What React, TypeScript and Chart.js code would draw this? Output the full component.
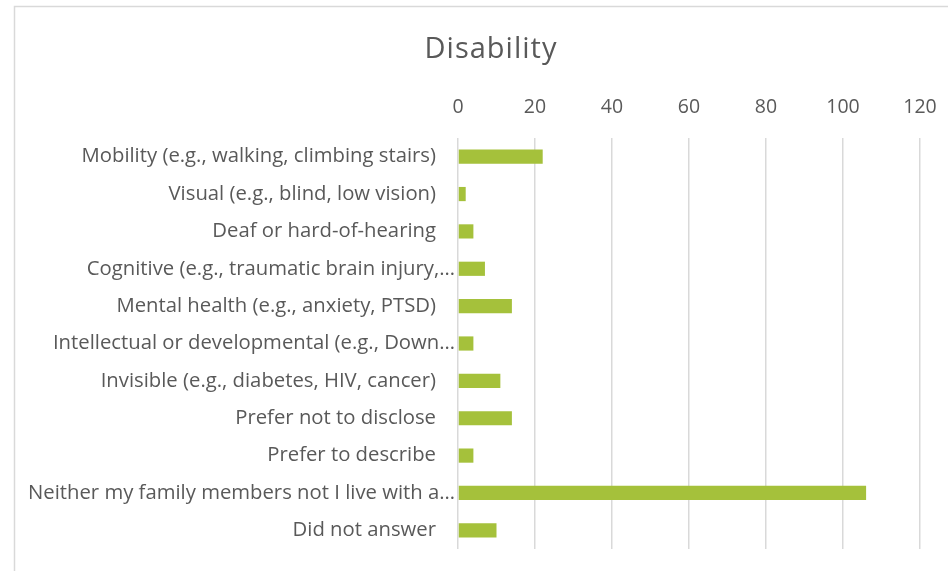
import React, { useEffect, useRef } from "react";
import { Chart, registerables } from "chart.js";

Chart.register(...registerables);

const categories: string[] = [
  "Mobility (e.g., walking, climbing stairs)",
  "Visual (e.g., blind, low vision)",
  "Deaf or hard-of-hearing",
  "Cognitive (e.g., traumatic brain injury,…",
  "Mental health (e.g., anxiety, PTSD)",
  "Intellectual or developmental (e.g., Down…",
  "Invisible (e.g., diabetes, HIV, cancer)",
  "Prefer not to disclose",
  "Prefer to describe",
  "Neither my family members not I live with a…",
  "Did not answer",
];

const values: number[] = [22, 2, 4, 7, 14, 4, 11, 14, 4, 106, 10];

const xTicks: number[] = [0, 20, 40, 60, 80, 100, 120];

const TITLE = "Disability";

const FONT = "'Open Sans', sans-serif";
const TEXT = "#595959";

const frame = {
  id: "frame",
  beforeDraw(chart: any) {
    const { ctx, width, height } = chart;
    ctx.save();
    ctx.fillStyle = "#ffffff";
    ctx.fillRect(0, 0, width, height);
    ctx.strokeStyle = "#d9d9d9";
    ctx.lineWidth = 1.5;
    ctx.beginPath();
    ctx.moveTo(width, 6.5);
    ctx.lineTo(14.5, 6.5);
    ctx.lineTo(14.5, height);
    ctx.stroke();
    ctx.fillStyle = TEXT;
    ctx.font = `29px ${FONT}`;
    (ctx as any).letterSpacing = "1px";
    ctx.textAlign = "center";
    ctx.textBaseline = "middle";
    ctx.fillText(TITLE, 491, 50);
    ctx.restore();
  },
};

const yLabels = {
  id: "yLabels",
  afterDraw(chart: any) {
    const { ctx } = chart;
    const yScale = chart.scales.y;
    const left = chart.chartArea.left;
    ctx.save();
    ctx.font = `20.3px ${FONT}`;
    ctx.fillStyle = TEXT;
    ctx.textAlign = "right";
    ctx.textBaseline = "middle";
    categories.forEach((label, i) => {
      const y = yScale.getPixelForTick(i);
      const truncated = label.endsWith("…");
      ctx.fillText(label, truncated ? left - 3 : left - 22, y);
    });
    ctx.restore();
  },
};

export default function App() {
  const ref = useRef<HTMLCanvasElement>(null);

  useEffect(() => {
    if (!ref.current) return;
    const chart = new Chart(ref.current, {
      type: "bar",
      data: {
        labels: categories,
        datasets: [
          {
            data: values,
            backgroundColor: "#a5c13b",
            barPercentage: 0.38,
            categoryPercentage: 1,
          },
        ],
      },
      options: {
        indexAxis: "y",
        animation: false,
        responsive: false,
        layout: { padding: { left: 0, right: 28, top: 0, bottom: 22 } },
        plugins: {
          legend: { display: false },
          tooltip: { enabled: false },
          title: { display: false },
        },
        scales: {
          x: {
            position: "top",
            min: 0,
            max: 120,
            afterBuildTicks: (axis: any) => {
              axis.ticks = xTicks.map((v) => ({ value: v }));
            },
            afterFit: (axis: any) => {
              axis.height = 138;
              axis.paddingLeft = 0;
              axis.paddingRight = 0;
            },
            grid: { color: "#d9d9d9", lineWidth: 1.5, drawTicks: false },
            border: { display: false },
            ticks: {
              color: TEXT,
              font: { family: FONT, size: 19.5 },
              padding: 19,
            },
          },
          y: {
            afterFit: (axis: any) => {
              axis.width = 458;
            },
            grid: { display: false },
            border: { display: false },
            ticks: { display: false },
          },
        },
      },
      plugins: [frame, yLabels],
    });
    return () => chart.destroy();
  }, []);

  return (
    <div style={{ position: "fixed", left: 0, top: 0, width: 948, height: 571 }}>
      <canvas ref={ref} width={948} height={571} />
    </div>
  );
}
